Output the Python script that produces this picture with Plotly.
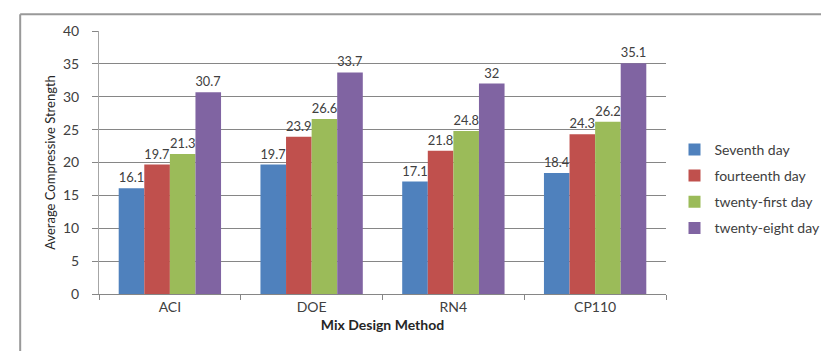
import plotly.graph_objects as go

categories = ["ACI", "DOE", "RN4", "CP110"]
series_names = ["Seventh day", "fourteenth day", "twenty-first day", "twenty-eight day"]
seventh = [16.1, 19.7, 17.1, 18.4]
fourteenth = [19.7, 23.9, 21.8, 24.3]
twenty_first = [21.3, 26.6, 24.8, 26.2]
twenty_eight = [30.7, 33.7, 32, 35.1]
y_ticks = [0, 5, 10, 15, 20, 25, 30, 35, 40]

colors = ["#4F81BD", "#C0504D", "#9BBB59", "#8064A2"]
FONT = "Lato"

fig = go.Figure()
for name, vals, col in zip(series_names, [seventh, fourteenth, twenty_first, twenty_eight], colors):
    fig.add_trace(go.Bar(
        x=categories, y=vals, name=name, marker_color=col, marker_line_width=0,
        text=[f"{v:g}" for v in vals], textposition="outside",
        textfont=dict(family=FONT, size=13, color="#404040"),
        cliponaxis=False, legendgroup=name,
    ))

fig.update_layout(
    width=829, height=351,
    margin=dict(l=91, r=162, t=23, b=65),
    paper_bgcolor="white", plot_bgcolor="white",
    barmode="group", bargap=0.278, bargroupgap=0,
    font=dict(family=FONT, color="#404040"),
    showlegend=True,
    legend=dict(x=1.015, y=0.40, xanchor="left", yanchor="middle",
                font=dict(family=FONT, size=14, color="#404040"),
                tracegroupgap=5, bgcolor="rgba(0,0,0,0)"),
    xaxis=dict(
        automargin=False,
        showline=True, linecolor="#868686", linewidth=1,
        ticks="outside", tickson="boundaries", ticklen=5, tickcolor="#868686",
        tickfont=dict(family=FONT, size=14, color="#404040"),
        title=dict(text="<b>Mix Design Method</b>", font=dict(family=FONT, size=14, color="#262626"), standoff=6),
        showgrid=False,
    ),
    yaxis=dict(
        automargin=False,
        range=[0, 40], tickvals=y_ticks,
        showline=True, linecolor="#A6A6A6", linewidth=1,
        ticks="outside", ticklen=6, tickcolor="#868686",
        ticklabelstandoff=10,
        tickfont=dict(family=FONT, size=14, color="#404040"),
        showgrid=True, gridcolor="#868686", gridwidth=1,
        zeroline=False,
        title=dict(text="Average Compressive Strength", font=dict(family=FONT, size=13, color="#262626"), standoff=4),
    ),
)

# outer frame lines (top and left)
fig.add_shape(type="line", xref="paper", yref="paper", x0=-0.139, x1=1.3, y0=1.064, y1=1.064,
              line=dict(color="#999999", width=2))
fig.add_shape(type="line", xref="paper", yref="paper", x0=-0.139, x1=-0.139, y0=-0.25, y1=1.064,
              line=dict(color="#999999", width=2))

fig.write_html("out.html")
